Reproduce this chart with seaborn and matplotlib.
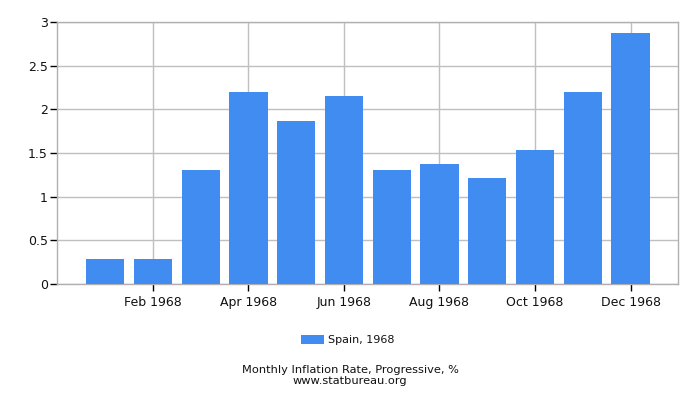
import matplotlib
matplotlib.use("Agg")
import matplotlib.pyplot as plt
import seaborn as sns

# Data
months = ["Jan", "Feb", "Mar", "Apr", "May", "Jun",
          "Jul", "Aug", "Sep", "Oct", "Nov", "Dec"]
inflation = [0.28, 0.28, 1.31, 2.20, 1.87, 2.15,
             1.31, 1.37, 1.21, 1.53, 2.20, 2.88]
tick_labels = ["Feb 1968", "Apr 1968", "Jun 1968",
               "Aug 1968", "Oct 1968", "Dec 1968"]
series_name = "Spain, 1968"

sns.set_style("white")
plt.rcParams["font.family"] = ["DejaVu Sans"]

fig = plt.figure(figsize=(7, 4), dpi=100)
ax = fig.add_axes([0.082, 0.291, 0.887, 0.653])

sns.barplot(x=months, y=inflation, order=months, color="#418cf0",
            saturation=1, width=0.8, linewidth=0, label=series_name,
            ax=ax, zorder=3)

ax.set_xlim(-1, 12)
ax.set_ylim(0, 3)
ax.set_yticks([0, 0.5, 1, 1.5, 2, 2.5, 3])
ax.set_yticklabels(["0", "0.5", "1", "1.5", "2", "2.5", "3"])
ax.set_xticks([1, 3, 5, 7, 9, 11])
ax.set_xticklabels(tick_labels)
ax.set_xlabel("")
ax.set_ylabel("")

ax.grid(True, color="#bfbfbf", linewidth=1, zorder=0)
ax.set_axisbelow(True)
for side in ["top", "right", "left", "bottom"]:
    ax.spines[side].set_color("#b0b0b0")
    ax.spines[side].set_linewidth(1)
ax.tick_params(axis="both", direction="out", length=5, width=1,
               bottom=True, left=True, color="black",
               labelsize=9, labelcolor="#111111")
ax.tick_params(axis="x", pad=4)
ax.tick_params(axis="y", pad=2)

handles, labels = ax.get_legend_handles_labels()
ax.legend_.remove() if ax.legend_ else None
fig.legend(handles, labels, loc="center", bbox_to_anchor=(0.497, 0.15),
           frameon=False, fontsize=8, labelcolor="#111111",
           handlelength=2.0, handleheight=0.85, handletextpad=0.4)

fig.text(0.5, 0.074, "Monthly Inflation Rate, Progressive, %",
         ha="center", va="center", fontsize=8.2, color="#111111")
fig.text(0.5, 0.048, "www.statbureau.org",
         ha="center", va="center", fontsize=8.2, color="#111111")

fig.savefig("out.png", dpi=100)
